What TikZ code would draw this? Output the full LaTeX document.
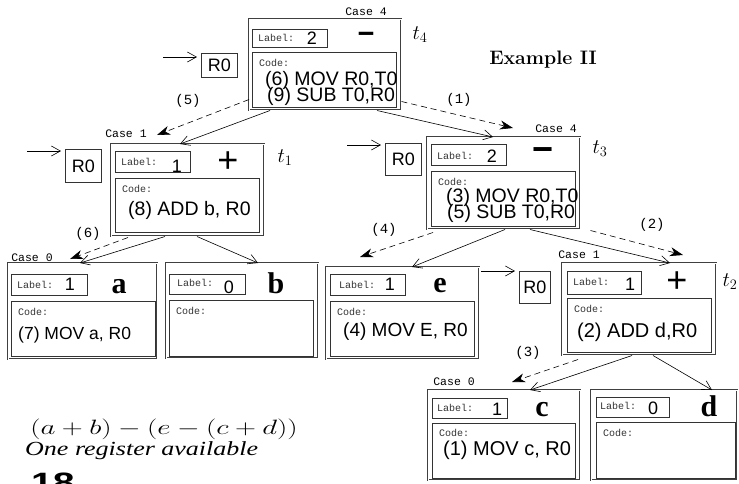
\documentclass[tikz,border=0pt]{standalone}
\usepackage{fontspec}
\usepackage{graphicx}
\usetikzlibrary{arrows.meta}
\newfontfamily\hv{Liberation Sans}
\newfontfamily\cour{Liberation Mono}
\newfontfamily\tms{Liberation Serif}

\tikzset{
  treebox/.style={draw=black!75, double, double distance=1.2pt, line width=0.5pt,
    anchor=north west, inner sep=0pt},
  labbox/.style={draw=black!80, line width=0.6pt, anchor=north west, inner sep=0pt,
    minimum width=75pt},
  codebox/.style={draw=black!80, line width=0.6pt, anchor=north west, inner sep=0pt,
    minimum width=144pt},
  small/.style={font=\cour\fontsize{10}{10}\selectfont, text=black!80, inner sep=0pt, anchor=west},
  casetxt/.style={font=\cour\fontsize{11.5}{11.5}\selectfont, inner sep=0pt},
  num/.style={font=\hv\fontsize{18}{18}\selectfont, inner sep=0pt},
  code/.style={font=\hv\fontsize{#1}{#1}\selectfont, inner sep=0pt, anchor=base west},
  code/.default=19.5,
  plusop/.style={font=\hv\fontsize{36}{36}\selectfont, inner sep=0pt},
  minusop/.style={font=\hv\bfseries\fontsize{#1}{#1}\selectfont, inner sep=0pt},
  leaf/.style={font=\tms\bfseries\fontsize{30}{30}\selectfont, inner sep=0pt, anchor=base},
  reg/.style={draw=black!80, line width=0.6pt, font=\hv\fontsize{18}{18}\selectfont,
    inner sep=0pt, anchor=north west},
  tname/.style={font=\fontsize{20}{20}\selectfont, inner sep=0pt},
  ord/.style={font=\cour\fontsize{14}{14}\selectfont, inner sep=0pt},
  tree/.style={line width=0.6pt, -{Straight Barb[length=9pt,width=10pt]}},
  order/.style={line width=0.6pt, dash pattern=on 6pt off 4pt,
    -{Stealth[length=13pt,width=9pt,inset=4pt]}},
  feed/.style={line width=0.6pt, -{Straight Barb[length=9pt,width=10pt]}, shorten >=4pt},
}

\begin{document}
\begin{tikzpicture}[x=1pt,y=-1pt]
\useasboundingbox (0,0) rectangle (739,483);

% ---------- t4 : root ----------
\node[treebox, minimum width=152pt, minimum height=91pt] (t4) at (249,19) {};
\node[labbox, minimum height=18pt] (t4l) at (252,29) {};
\node[codebox, minimum height=55pt] (t4c) at (252,52) {};
\node[small] at (258,38) {Label:};
\node[num] at (312,38) {2};
\node[minusop=29] at (366,38) {−};
\node[small] at ([xshift=7pt,yshift=-11pt]t4c.north west) {Code:};
\node[code] at (265,85) {(6) MOV R0,T0};
\node[code] at (267,101.5) {(9) SUB T0,R0};
\node[casetxt] at (366,12) {Case 4};
\node[tname] at (420,35) {$t_4$};
\node[reg, minimum width=36pt, minimum height=24pt] (r4) at (201,53) {R0};
\coordinate (in4) at (163,57);
\draw[feed] (in4) -- (in4 -| r4.west);

% ---------- t1 ----------
\node[treebox, minimum width=153pt, minimum height=92pt] (t1) at (111,144) {};
\node[labbox, minimum height=21pt] (t1l) at (115,151) {};
\node[codebox, minimum height=54pt] (t1c) at (115,178) {};
\node[small] at (121,162) {Label:};
\node[num] at (177,166) {1};
\node[plusop] at (228,162) {+};
\node[small] at ([xshift=7pt,yshift=-11pt]t1c.north west) {Code:};
\node[code] at (128,215) {(8) ADD b, R0};
\node[casetxt] at (126,134) {Case 1};
\node[tname] at (285,158) {$t_1$};
\node[reg, minimum width=36pt, minimum height=33pt] (r1) at (65,149) {R0};
\coordinate (in1) at (27,151);
\draw[feed] (in1) -- (in1 -| r1.west);

% ---------- t3 ----------
\node[treebox, minimum width=153pt, minimum height=92pt] (t3) at (427,137) {};
\node[labbox, minimum height=21pt] (t3l) at (431,144) {};
\node[codebox, minimum height=55pt] (t3c) at (431,171) {};
\node[small] at (437,156) {Label:};
\node[num] at (492,156) {2};
\node[minusop=36] at (543,155) {−};
\node[small] at ([xshift=7pt,yshift=-11pt]t3c.north west) {Code:};
\node[code] at (446,202) {(3) MOV R0,T0};
\node[code] at (447,218.5) {(5) SUB T0,R0};
\node[casetxt] at (556,129) {Case 4};
\node[tname] at (600,149) {$t_3$};
\node[reg, minimum width=36pt, minimum height=32pt] (r3) at (385,143) {R0};
\coordinate (in3) at (347,145);
\draw[feed] (in3) -- (in3 -| r3.west);

% ---------- leaf a ----------
\node[treebox, minimum width=149pt, minimum height=96pt] (a) at (8,263) {};
\node[labbox, minimum width=76pt, minimum height=21pt] (al) at (11,274) {};
\node[codebox, minimum height=55pt] (ac) at (11,301) {};
\node[small] at (17,285) {Label:};
\node[num] at (70,284) {1};
\node[leaf] at (119,293) {a};
\node[small] at ([xshift=7pt,yshift=-11pt]ac.north west) {Code:};
\node[code=17.5] at (18,339) {(7) MOV a, R0};
\node[casetxt] at (32,258) {Case 0};

% ---------- leaf b ----------
\node[treebox, minimum width=152pt, minimum height=95pt] (b) at (166,263) {};
\node[labbox, minimum width=76pt, minimum height=20pt] (bl) at (169,274) {};
\node[codebox, minimum height=56pt] (bc) at (169,300) {};
\node[small] at (177,283) {Label:};
\node[num] at (229,287) {0};
\node[leaf] at (276,293) {b};
\node[small] at ([xshift=7pt,yshift=-11pt]bc.north west) {Code:};

% ---------- leaf e ----------
\node[treebox, minimum width=153pt, minimum height=92pt] (e) at (326,267) {};
\node[labbox, minimum height=21pt] (el) at (330,274) {};
\node[codebox, minimum height=55pt] (ec) at (330,301) {};
\node[small] at (339,285) {Label:};
\node[num] at (390,284) {1};
\node[leaf] at (440,292) {e};
\node[small] at ([xshift=7pt,yshift=-11pt]ec.north west) {Code:};
\node[code=19] at (343,336) {(4) MOV E, R0};

% ---------- t2 ----------
\node[treebox, minimum width=154pt, minimum height=92pt] (t2) at (562,263) {};
\node[labbox, minimum width=74pt, minimum height=23pt] (t2l) at (567,271) {};
\node[codebox, minimum height=54pt] (t2c) at (567,298) {};
\node[small] at (573,282) {Label:};
\node[num] at (630,284) {1};
\node[plusop] at (677,282) {+};
\node[small] at ([xshift=7pt,yshift=-11pt]t2c.north west) {Code:};
\node[code=20] at (577,337) {(2) ADD d,R0};
\node[casetxt] at (579,255) {Case 1};
\node[tname] at (730,282) {$t_2$};
\node[reg, minimum width=31pt, minimum height=32pt] (r2) at (519,271) {R0};
\coordinate (in2) at (481,271);
\draw[feed] (in2) -- (in2 -| r2.west);

% ---------- leaf c ----------
\node[treebox, minimum width=152pt, minimum height=90pt] (c) at (428,390) {};
\node[labbox, minimum height=20pt] (cl) at (432,398) {};
\node[codebox, minimum width=143pt, minimum height=55pt] (cc) at (432,423) {};
\node[small] at (437,408) {Label:};
\node[num] at (497,409) {1};
\node[leaf] at (542,416) {c};
\node[small] at ([xshift=7pt,yshift=-10pt]cc.north west) {Code:};
\node[code=20] at (443,455) {(1) MOV c, R0};
\node[casetxt] at (454,382) {Case 0};

% ---------- leaf d ----------
\node[treebox, minimum width=146pt, minimum height=90pt] (d) at (591,390) {};
\node[labbox, minimum width=73pt, minimum height=20pt] (dl) at (596,397) {};
\node[codebox, minimum width=139pt, minimum height=56pt] (dc) at (596,422) {};
\node[small] at (600,406) {Label:};
\node[num] at (653,408) {0};
\node[leaf] at (709,416) {d};
\node[small] at ([xshift=7pt,yshift=-11pt]dc.north west) {Code:};

% ---------- tree edges ----------
\draw[tree] ([xshift=21pt]t4.south west) -- ([xshift=69pt]t1.north west);
\draw[tree] ([xshift=128pt]t4.south west) -- ([xshift=66pt]t3.north west);
\draw[tree] ([xshift=54pt]t1.south west) -- ([xshift=72pt]a.north west);
\draw[tree] ([xshift=86pt]t1.south west) -- ([xshift=92pt]b.north west);
\draw[tree] ([xshift=78pt]t3.south west) -- ([xshift=86pt]e.north west);
\draw[tree] ([xshift=103pt]t3.south west) -- ([xshift=108pt]t2.north west);
\draw[tree] ([xshift=70pt]t2.south west) -- ([xshift=102pt]c.north west);
\draw[tree] ([xshift=91pt]t2.south west) -- ([xshift=121pt]d.north west);

% ---------- evaluation order ----------
\coordinate (o5) at (157,135);
\coordinate (o1) at (513,128);
\coordinate (o6) at (70,259);
\coordinate (o4) at (360,257);
\coordinate (o2) at (683,255);
\coordinate (o3) at (512,382);
\draw[order] ([yshift=11pt]t4.south west) -- (o5);
\draw[order] ([yshift=9pt]t4.south east) -- (o1);
\draw[order] ([xshift=17pt,yshift=-1pt]t1.south west) -- (o6);
\draw[order] ([xshift=6pt,yshift=-3pt]t3.south west) -- (o4);
\draw[order] ([xshift=10pt,yshift=-1pt]t3.south east) -- (o2);
\draw[order] ([xshift=16pt,yshift=-4pt]t2.south west) -- (o3);
\node[ord] at (188,101) {(5)};
\node[ord] at (459,100) {(1)};
\node[ord] at (88,234) {(6)};
\node[ord] at (384,230) {(4)};
\node[ord] at (652,225) {(2)};
\node[ord] at (528,353) {(3)};

% ---------- captions ----------
\node[font=\bfseries\fontsize{19.5}{19.5}\selectfont, inner sep=0pt] at (543,60) {Example II};
\node[inner sep=0pt] at (164,429.5)
  {\scalebox{1.40}[1]{\fontsize{20.74}{22}\selectfont$(a+b)-(e-(c+d))$}};
\node[inner sep=0pt, anchor=base west] at (25,455)
  {\scalebox{1.3}[1]{\tms\itshape\fontsize{20}{20}\selectfont One register available}};
\node[inner sep=0pt, anchor=base west] at (31,492)
  {\scalebox{1.4}[1]{\hv\bfseries\fontsize{28}{28}\selectfont 18}};
\end{tikzpicture}
\end{document}
